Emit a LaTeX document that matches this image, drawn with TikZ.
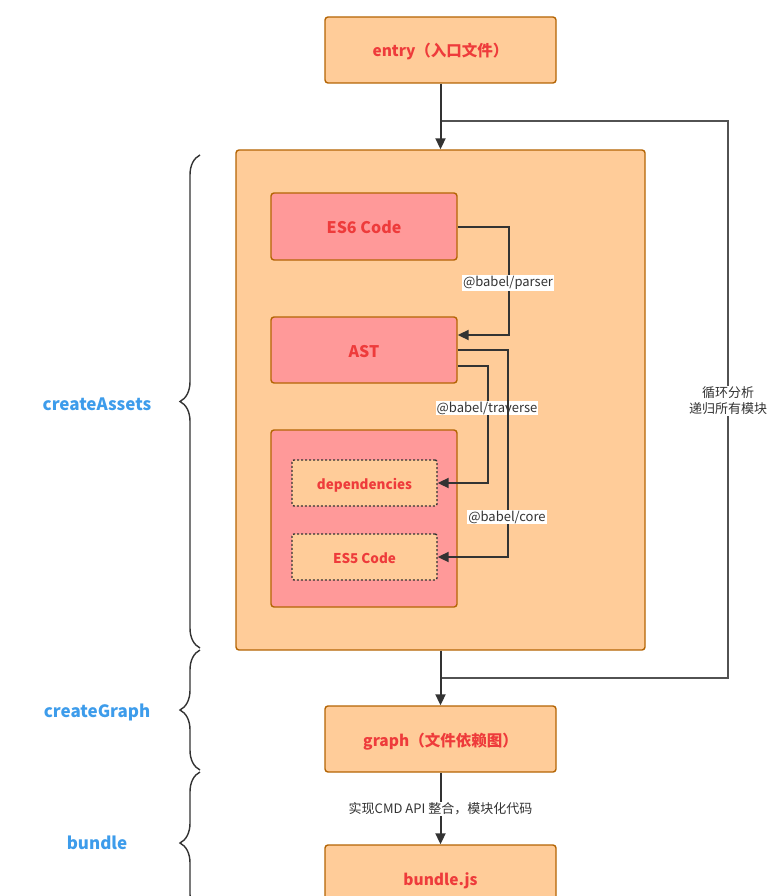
\documentclass[tikz,border=0pt]{standalone}
\usepackage{fontspec}
\setmainfont{Noto Sans CJK SC}
\usetikzlibrary{calc,arrows.meta,decorations.pathreplacing}
\definecolor{boxfill}{HTML}{FFCC99}
\definecolor{pinkfill}{HTML}{FF9999}
\definecolor{boxline}{HTML}{B46504}
\definecolor{redtxt}{HTML}{EE3B3B}
\definecolor{bluetxt}{HTML}{3D9CEB}
\definecolor{linec}{HTML}{333333}
\begin{document}
\begin{tikzpicture}[x=1pt,y=-1pt,
  box/.style={draw=boxline,line width=1.4pt,rounded corners=3pt,fill=boxfill,
    font=\fontsize{15.5}{18}\selectfont\bfseries,text=redtxt,inner sep=0pt,
    text height=16pt,text depth=2pt},
  pinkbox/.style={box,font=\fontsize{16}{18}\selectfont\bfseries,fill=pinkfill},
  dotbox/.style={draw=linec,line width=1.4pt,dash pattern=on 2pt off 2pt,rounded corners=2pt,
    fill=boxfill,font=\fontsize{13.5}{16}\selectfont\bfseries,text=redtxt,inner sep=0pt,
    text height=14pt,text depth=2pt},
  arr/.style={draw=linec,line width=2pt,-{Triangle[length=11pt,width=10pt]}},
  lbl/.style={fill=white,inner sep=1pt,text=linec,font=\fontsize{13}{15}\selectfont},
  stage/.style={text=bluetxt,font=\fontsize{17}{20}\selectfont\bfseries},
  brc/.style={draw=linec,line width=1.4pt,decorate,decoration={brace,amplitude=20pt}}
]
\useasboundingbox (0,0) rectangle (776,896);
\clip (0,0) rectangle (776,896);
\fill[white] (0,0) rectangle (776,896);

% main boxes
\node[box,minimum width=231pt,minimum height=66pt] (entry) at (440.5,50) {entry（入口文件）};
\node[box,minimum width=409pt,minimum height=500pt] (big) at (440.5,400) {};
\node[pinkbox,minimum width=186pt,minimum height=67pt] (es6) at (364,226.5) {ES6 Code};
\node[pinkbox,minimum width=186pt,minimum height=66pt] (ast) at (364,350) {AST};
\node[pinkbox,minimum width=186pt,minimum height=177pt] (cont) at (364,518.5) {};
\node[dotbox,minimum width=145pt,minimum height=46pt] (deps) at (364.5,483) {dependencies};
\node[dotbox,minimum width=145pt,minimum height=46pt] (es5) at (364.5,557) {ES5 Code};
\node[box,minimum width=231pt,minimum height=66pt] (graph) at (440.5,739) {graph（文件依赖图）};
\node[box,minimum width=231pt,minimum height=66pt] (bundle) at (440.5,878) {bundle.js};

% loop
\coordinate (lt) at (440.5,121);
\coordinate (rt) at (728,121);
\coordinate (rb) at (728,678);
\coordinate (lb) at (440.5,678);
\draw[draw=linec!85,line width=1.6pt] (lb) -- (rb) -- (rt) -- (lt);
\node[lbl,align=center,font=\fontsize{13}{16}\selectfont] (looplbl) at (728,401) {循环分析\\递归所有模块};

% main flow arrows
\draw[arr] (entry.south) -- (big.north);
\draw[arr] (big.south) -- (graph.north);
\draw[arr] (graph.south) -- (bundle.north);
\node[lbl] (cmdlbl) at (440.5,809) {实现CMD API 整合，模块化代码};

% inner arrows
\draw[arr] (es6.east) -| ($(ast.east)+(51,-15)$) -- ($(ast.east)+(0,-15)$);
\node[lbl] (parserlbl) at (508,283) {@babel/parser};
\draw[arr] ($(ast.east)+(0,16)$) -| ($(deps.east)+(50,0)$) -- (deps.east);
\node[lbl] (travlbl) at (487,408) {@babel/traverse};
\draw[arr] (ast.east) -| ($(es5.east)+(70,0)$) -- (es5.east);
\node[lbl] (corelbl) at (507,517) {@babel/core};

% braces and stage labels
\coordinate (b1t) at (200,155);
\coordinate (b1b) at (200,648);
\coordinate (b2t) at (200,650);
\coordinate (b2b) at (200,770);
\coordinate (b3t) at (200,772);
\coordinate (b3b) at (200,914);
\draw[brc] (b1b) -- (b1t);
\draw[brc] (b2b) -- (b2t);
\draw[brc] (b3b) -- (b3t);
\node[stage] (sa) at (97,404) {createAssets};
\node[stage] (sg) at (97,712) {createGraph};
\node[stage] (sb) at (97,843) {bundle};
\end{tikzpicture}
\end{document}
